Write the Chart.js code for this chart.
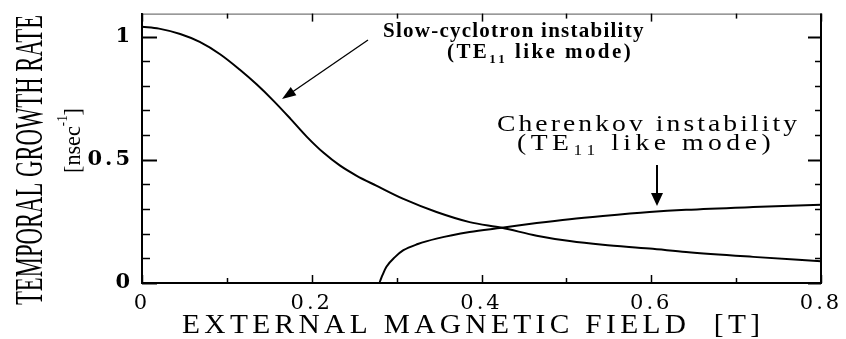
<!DOCTYPE html>
<html>
<head>
<meta charset="utf-8">
<script src="https://cdn.jsdelivr.net/npm/chart.js@4/dist/chart.umd.min.js"></script>
<style>
  html, body { margin: 0; padding: 0; background: #fff; }
  canvas { display: block; }
</style>
</head>
<body>
<canvas id="growthChart" width="846" height="339"></canvas>
<script>
//Data
const slowX = [0, 0.02, 0.045, 0.068, 0.092, 0.115, 0.135, 0.155, 0.175, 0.194, 0.214, 0.233, 0.253, 0.276, 0.308, 0.347, 0.386, 0.424, 0.465, 0.504, 0.543, 0.598, 0.641, 0.72, 0.8]; //B field [T]
const slowY = [1.04, 1.032, 1.01, 0.978, 0.928, 0.866, 0.806, 0.739, 0.666, 0.594, 0.528, 0.477, 0.435, 0.395, 0.341, 0.288, 0.247, 0.224, 0.192, 0.17, 0.155, 0.14, 0.126, 0.106, 0.088]; //growth rate [1/ns]
const cherX = [0.07, 0.279, 0.283, 0.288, 0.298, 0.308, 0.325, 0.347, 0.386, 0.424, 0.465, 0.504, 0.543, 0.598, 0.641, 0.72, 0.8];
const cherY = [0, 0, 0.03, 0.066, 0.105, 0.133, 0.158, 0.18, 0.207, 0.224, 0.243, 0.259, 0.272, 0.288, 0.297, 0.308, 0.317];
const xTickValues = [0, 0.2, 0.4, 0.6, 0.8]; //labelled x ticks
const xTickLabels = ['0', '0.2', '0.4', '0.6', '0.8'];
const yTickValues = [0, 0.5, 1]; //labelled y ticks
const yTickLabels = ['0', '0.5', '1'];

const SERIF = '"Liberation Serif", "Times New Roman", serif';

function toPoints(xs, ys) { //zip x/y arrays into chart points
    return xs.map((x, i) => ({ x: x, y: ys[i] }));
}

function labelFor(values, labels, v) { //label for a tick value, or blank
    const i = values.findIndex(t => Math.abs(t - v) < 1e-6);
    return i >= 0 ? labels[i] : '';
}

//draw a run of text pieces squeezed/stretched to a given width
function drawFit(ctx, pieces, x, y, width, angle) {
    ctx.save();
    let w = 0;
    pieces.forEach(p => { ctx.font = p.font; w += ctx.measureText(p.t).width; });
    ctx.translate(x, y);
    ctx.rotate(angle || 0);
    ctx.scale(width / w, 1);
    let cx = 0;
    pieces.forEach(p => {
        ctx.font = p.font;
        ctx.fillText(p.t, cx, p.dy || 0);
        cx += ctx.measureText(p.t).width;
    });
    ctx.restore();
}

//draw text pieces letter by letter, stretched by sx then spread to fill a width
function drawSpaced(ctx, pieces, x, y, width, sx) {
    sx = sx || 1;
    ctx.save();
    let w = 0, n = 0;
    pieces.forEach(p => { ctx.font = p.font; w += ctx.measureText(p.t).width * sx; n += p.t.length; });
    const gap = (width - w) / (n - 1);
    ctx.translate(x, y);
    let cx = 0;
    pieces.forEach(p => {
        ctx.font = p.font;
        for (const ch of p.t) {
            ctx.save();
            ctx.translate(cx, p.dy || 0);
            ctx.scale(sx, 1);
            ctx.fillText(ch, 0, 0);
            ctx.restore();
            cx += ctx.measureText(ch).width * sx + gap;
        }
    });
    ctx.restore();
}

function arrow(ctx, x1, y1, x2, y2, len, half) { //line with filled head at (x2,y2)
    const a = Math.atan2(y2 - y1, x2 - x1);
    ctx.beginPath();
    ctx.moveTo(x1, y1);
    ctx.lineTo(x2 - Math.cos(a) * len * 0.8, y2 - Math.sin(a) * len * 0.8);
    ctx.stroke();
    ctx.beginPath();
    ctx.moveTo(x2, y2);
    ctx.lineTo(x2 - Math.cos(a) * len - Math.sin(a) * half, y2 - Math.sin(a) * len + Math.cos(a) * half);
    ctx.lineTo(x2 - Math.cos(a) * len + Math.sin(a) * half, y2 - Math.sin(a) * len - Math.cos(a) * half);
    ctx.closePath();
    ctx.fill();
}

const framePlugin = { //frame, inward ticks, labels and arrows
    id: 'frame',
    beforeDraw(chart) {
        chart.ctx.letterSpacing = '3px'; //wide tick numbers like the scan
    },
    beforeDatasetsDraw(chart) {
        chart.ctx.letterSpacing = '0px';
    },
    afterDraw(chart) {
        const ctx = chart.ctx;
        const xs = chart.scales.x, ys = chart.scales.y;
        const L = xs.left, R = xs.right, T = ys.top, B = ys.bottom;
        ctx.save();
        ctx.letterSpacing = '0px';
        ctx.strokeStyle = '#000';
        ctx.fillStyle = '#000';

        //top and right side of the box
        ctx.lineWidth = 1;
        ctx.strokeStyle = '#555';
        ctx.beginPath(); ctx.moveTo(L, T + 0.5); ctx.lineTo(R, T + 0.5); ctx.stroke();
        ctx.strokeStyle = '#000';
        ctx.lineWidth = 2;
        ctx.beginPath(); ctx.moveTo(R, T); ctx.lineTo(R, B); ctx.stroke();

        //x ticks, bottom and top
        for (let k = 0; k <= 8; k++) {
            const px = Math.round(xs.getPixelForValue(k / 10)) + 0.5;
            const len = k % 2 === 0 ? 8 : 5;
            ctx.lineWidth = 1.5;
            ctx.beginPath(); ctx.moveTo(px, B); ctx.lineTo(px, B - len); ctx.stroke();
            ctx.beginPath(); ctx.moveTo(px, T); ctx.lineTo(px, T + len); ctx.stroke();
        }
        //y ticks, left and right
        for (let k = 0; k <= 10; k++) {
            const py = Math.round(ys.getPixelForValue(k / 10)) + 0.5;
            const major = k % 5 === 0;
            ctx.lineWidth = major ? 2 : 1.5;
            ctx.beginPath(); ctx.moveTo(L, py); ctx.lineTo(L + (major ? 15 : 8), py); ctx.stroke();
            ctx.beginPath(); ctx.moveTo(R, py); ctx.lineTo(R - (major ? 13 : 6), py); ctx.stroke();
        }

        //annotations
        ctx.textBaseline = 'alphabetic';
        const bold = 'bold 21px ' + SERIF;
        const sub = 'bold 13px ' + SERIF;
        drawSpaced(ctx, [{ t: 'Slow-cyclotron instability', font: bold }], 383, 37, 260);
        drawSpaced(ctx, [{ t: '(TE', font: bold }, { t: '11', font: sub, dy: 5 }, { t: ' like mode)', font: bold }], 447, 58, 183);
        const big = '24px ' + SERIF;
        const bigSub = '15px ' + SERIF;
        drawSpaced(ctx, [{ t: 'Cherenkov instability', font: big }], 497, 131, 300, 1.15);
        drawSpaced(ctx, [{ t: '(TE', font: big }, { t: '11', font: bigSub, dy: 5 }, { t: ' like mode)', font: big }], 517, 150, 253, 1.15);

        ctx.lineWidth = 1.3;
        arrow(ctx, 368, 40, 282, 99, 14, 5);
        ctx.lineWidth = 2;
        arrow(ctx, 657, 165, 657, 206, 13, 6);

        //axis titles
        drawSpaced(ctx, [{ t: 'EXTERNAL MAGNETIC FIELD  [T]', font: '28px ' + SERIF }], 182, 333, 578, 1.05);
        drawFit(ctx, [{ t: 'TEMPORAL GROWTH RATE', font: '40px ' + SERIF }], 42, 305, 290, -Math.PI / 2);
        drawFit(ctx, [{ t: '[nsec', font: '24px ' + SERIF }, { t: '-1', font: '14px ' + SERIF, dy: -13 }, { t: ']', font: '24px ' + SERIF }], 80, 173, 65, -Math.PI / 2);
        ctx.restore();
    }
};

window.addEventListener('DOMContentLoaded', () => {
    const ctx = document.getElementById('growthChart').getContext('2d');
    new Chart(ctx, {
        type: 'line',
        data: {
            datasets: [{
                label: 'Slow-cyclotron instability',
                data: toPoints(slowX, slowY),
                borderColor: '#000',
                borderWidth: 2,
                pointRadius: 0,
                cubicInterpolationMode: 'monotone'
            }, {
                label: 'Cherenkov instability',
                data: toPoints(cherX, cherY),
                borderColor: '#000',
                borderWidth: 2,
                pointRadius: 0,
                cubicInterpolationMode: 'monotone'
            }]
        },
        options: {
            responsive: false,
            animation: false,
            layout: { padding: { top: 12, right: 25, left: 0, bottom: 0 } },
            plugins: { legend: { display: false }, tooltip: { enabled: false } },
            scales: {
                x: {
                    type: 'linear',
                    min: 0,
                    max: 0.8,
                    grid: { display: false },
                    border: { display: true, color: '#000', width: 2 },
                    afterFit: s => { s.height = 56; },
                    ticks: {
                        stepSize: 0.1,
                        autoSkip: false,
                        maxRotation: 0,
                        padding: 0,
                        color: '#000',
                        font: { family: '"DejaVu Serif", serif', size: 21 },
                        callback: v => labelFor(xTickValues, xTickLabels, v)
                    }
                },
                y: {
                    type: 'linear',
                    min: 0,
                    max: 1.093,
                    grid: { display: false },
                    border: { display: true, color: '#000', width: 2 },
                    afterFit: s => { s.width = 142; },
                    ticks: {
                        stepSize: 0.1,
                        includeBounds: false,
                        autoSkip: false,
                        padding: 1,
                        color: '#000',
                        font: { family: '"DejaVu Serif", serif', size: 21, weight: 'bold' },
                        callback: v => labelFor(yTickValues, yTickLabels, v)
                    }
                }
            }
        },
        plugins: [framePlugin]
    });
});
</script>
</body>
</html>
